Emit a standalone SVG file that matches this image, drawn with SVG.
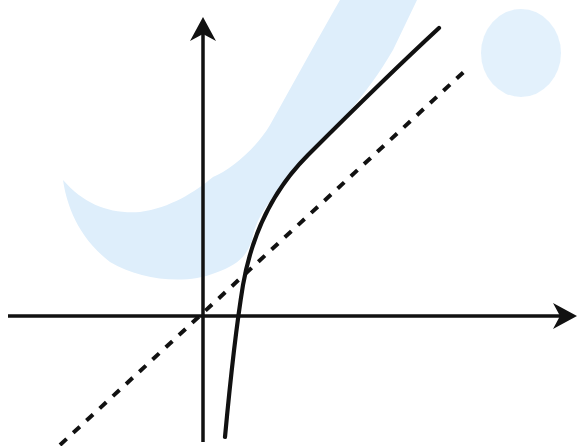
<svg xmlns="http://www.w3.org/2000/svg" width="579" height="446" viewBox="0 0 579 446">
  <style>
    .wm { fill: #deeefb; stroke: none; }
    .axis { fill: none; stroke: #111; stroke-width: 3.5; }
    .curve { fill: none; stroke: #111; stroke-width: 4.2; stroke-linecap: round; stroke-linejoin: round; }
    .asym { fill: none; stroke: #111; stroke-width: 4; stroke-dasharray: 9 9; }
  </style>
  <defs>
    <marker id="arrow" markerUnits="userSpaceOnUse" markerWidth="30" markerHeight="30" viewBox="-25 -15 30 30" refX="-8" refY="0" orient="auto" overflow="visible">
      <path d="M0,0 L-24,-13 L-17,0 L-24,13 Z" fill="#111"/>
    </marker>
  </defs>
  <rect width="579" height="446" fill="#ffffff"/>
  <g id="watermark">
    <path class="wm" d="M63,180 C66,200 75,235 110,262 C140,280 185,285 215,273 C235,266 245,258 250,245 L252,240 C255,222 265,205 287,180 L310,153 C335,128 365,98 393,50 L417,0 L340,0 C320,35 295,80 270,125 C255,150 230,170 213,177 C195,192 170,208 140,212 C110,214 85,205 63,180 Z"/>
    <ellipse class="wm" cx="521" cy="53" rx="40" ry="44" fill-opacity="0.85"/>
  </g>
  <g id="connectors">
    <line id="x-axis" class="axis" x1="8" y1="316" x2="569" y2="316" marker-end="url(#arrow)"/>
    <line id="y-axis" class="axis" x1="203" y1="442" x2="203" y2="25" marker-end="url(#arrow)"/>
  </g>
  <g id="asymptote">
    <line class="asym" x1="60" y1="445" x2="468" y2="68"/>
  </g>
  <g id="graph">
    <path class="curve" d="M225,437 Q234,340 243,285 C250,245 266,197 308,155 C347,116 400,64 439,28"/>
  </g>
</svg>
